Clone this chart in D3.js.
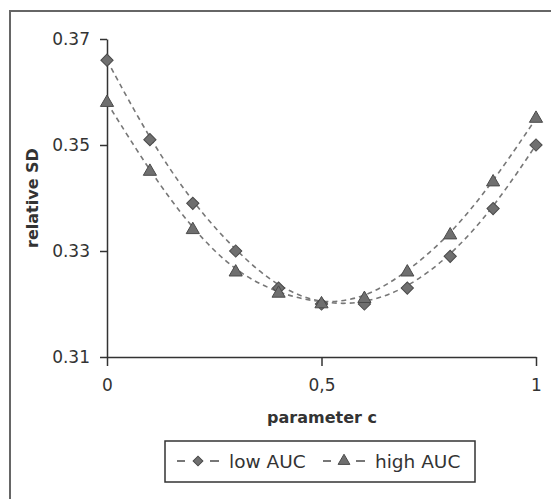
<!DOCTYPE html>
<html>
<head>
<meta charset="utf-8">
<script src="https://d3js.org/d3.v7.min.js"></script>
<style>
  body { margin: 0; background: #fff; }
  text { font-family: "DejaVu Sans", Arial, sans-serif; fill: #333; }
</style>
</head>
<body>
<svg width="551" height="499"></svg>
<script>
const cValues = [0, 0.1, 0.2, 0.3, 0.4, 0.5, 0.6, 0.7, 0.8, 0.9, 1];
const lowAUC = [0.366, 0.351, 0.339, 0.330, 0.323, 0.320, 0.320, 0.323, 0.329, 0.338, 0.350];
const highAUC = [0.358, 0.345, 0.334, 0.326, 0.322, 0.320, 0.321, 0.326, 0.333, 0.343, 0.355];
const xTicks = [0, 0.5, 1];
const xTickLabels = ['0', '0,5', '1'];
const yTicks = [0.31, 0.33, 0.35, 0.37];

const svg = d3.select('svg');

// outer frame (cut off at right and bottom like the scan)
svg.append('rect')
  .attr('x', 10).attr('y', 11)
  .attr('width', 560).attr('height', 520)
  .attr('fill', 'none')
  .attr('stroke', '#666')
  .attr('stroke-width', 2);

const x = d3.scaleLinear().domain([0, 1]).range([107, 536]);
const y = d3.scaleLinear().domain([0.31, 0.37]).range([357, 39]);

// y axis
const yAxis = svg.append('g')
  .attr('transform', `translate(${x(0)},0)`)
  .call(d3.axisLeft(y).tickValues(yTicks).tickFormat(d3.format('.2f')).tickSize(7).tickSizeOuter(0));
yAxis.select('.domain').attr('stroke', '#333').attr('stroke-width', 1.5);
yAxis.selectAll('.tick line').attr('stroke', '#333').attr('stroke-width', 1.5);
yAxis.selectAll('text')
  .attr('font-size', '17px')
  .attr('font-family', '"DejaVu Sans", Arial, sans-serif')
  .attr('x', -17)
  .attr('fill', '#333');

// x axis
const xAxis = svg.append('g')
  .attr('transform', `translate(0,${y(0.31)})`)
  .call(d3.axisBottom(x).tickValues(xTicks).tickFormat((d, i) => xTickLabels[i]).tickSize(9).tickSizeOuter(0));
xAxis.select('.domain').attr('stroke', '#333').attr('stroke-width', 1.5);
xAxis.selectAll('.tick line').attr('stroke', '#333').attr('stroke-width', 1.5);
xAxis.selectAll('text')
  .attr('font-size', '17px')
  .attr('font-family', '"DejaVu Sans", Arial, sans-serif')
  .attr('y', 22)
  .attr('fill', '#333');

// axis titles
svg.append('text')
  .attr('x', 322).attr('y', 423)
  .attr('text-anchor', 'middle')
  .attr('font-size', '16px')
  .attr('font-weight', 'bold')
  .text('parameter c');

svg.append('text')
  .attr('transform', 'translate(38,198) rotate(-90)')
  .attr('text-anchor', 'middle')
  .attr('font-size', '16px')
  .attr('font-weight', 'bold')
  .text('relative SD');

const series = [
  { name: 'low AUC', values: lowAUC, symbol: d3.symbolSquare, size: 75, legendSize: 48, rotate: 45 },
  { name: 'high AUC', values: highAUC, symbol: d3.symbolTriangle, size: 75, legendSize: 60, rotate: 0 }
];

const line = d3.line()
  .x((d, i) => x(cValues[i]))
  .y(d => y(d))
  .curve(d3.curveBasis);

series.forEach(s => {
  svg.append('path')
    .datum(s.values)
    .attr('d', line)
    .attr('fill', 'none')
    .attr('stroke', '#777')
    .attr('stroke-width', 1.6)
    .attr('stroke-dasharray', '5,4');
});

series.forEach(s => {
  svg.selectAll(null)
    .data(s.values)
    .enter().append('path')
    .attr('d', d3.symbol().type(s.symbol).size(s.size))
    .attr('transform', (d, i) => `translate(${x(cValues[i])},${y(d)}) rotate(${s.rotate})`)
    .attr('fill', '#6f6f6f')
    .attr('stroke', '#4a4a4a')
    .attr('stroke-width', 1);
});

// legend
const legend = svg.append('g');
legend.append('rect')
  .attr('x', 165).attr('y', 441)
  .attr('width', 310).attr('height', 41)
  .attr('fill', '#fff')
  .attr('stroke', '#333')
  .attr('stroke-width', 1.5);

const legendX = [177, 323];
series.forEach((s, k) => {
  const lx = legendX[k];
  [[lx, lx + 8], [lx + 33, lx + 42]].forEach(seg => {
    legend.append('line')
      .attr('x1', seg[0]).attr('x2', seg[1])
      .attr('y1', 461).attr('y2', 461)
      .attr('stroke', '#555')
      .attr('stroke-width', 1.6);
  });
  legend.append('path')
    .attr('d', d3.symbol().type(s.symbol).size(s.legendSize)())
    .attr('transform', `translate(${lx + 21},461) rotate(${s.rotate})`)
    .attr('fill', '#6f6f6f')
    .attr('stroke', '#4a4a4a');
  legend.append('text')
    .attr('x', lx + 52).attr('y', 468)
    .attr('font-size', '18.5px')
    .text(s.name);
});
</script>
</body>
</html>
